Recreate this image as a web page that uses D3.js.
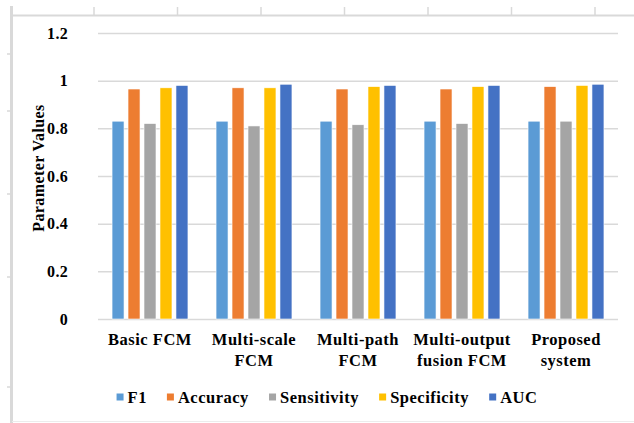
<!DOCTYPE html>
<html>
<head>
<meta charset="utf-8">
<script src="https://cdn.jsdelivr.net/npm/d3@7"></script>
</head>
<body style="margin:0;padding:0;background:#fff;">
<svg id="chart" width="634" height="423" style="display:block;"></svg>
<script>
const categories = ["Basic FCM", "Multi-scale FCM", "Multi-path FCM", "Multi-output fusion FCM", "Proposed system"];
const categoryLines = [["Basic FCM"], ["Multi-scale", "FCM"], ["Multi-path", "FCM"], ["Multi-output", "fusion FCM"], ["Proposed", "system"]];
const seriesNames = ["F1", "Accuracy", "Sensitivity", "Specificity", "AUC"];
const F1 = [0.83, 0.83, 0.83, 0.83, 0.83];
const Accuracy = [0.965, 0.97, 0.965, 0.965, 0.975];
const Sensitivity = [0.82, 0.81, 0.815, 0.82, 0.83];
const Specificity = [0.97, 0.97, 0.975, 0.975, 0.98];
const AUC = [0.98, 0.985, 0.98, 0.98, 0.985];
const yTicks = [0, 0.2, 0.4, 0.6, 0.8, 1, 1.2];
const yTickLabels = ["0", "0.2", "0.4", "0.6", "0.8", "1", "1.2"];
const yTitle = "Parameter Values";
const colors = ["#5b9bd5", "#ed7d31", "#a5a5a5", "#ffc000", "#4472c4"];

const seriesValues = [F1, Accuracy, Sensitivity, Specificity, AUC];
const FONT = '"Liberation Serif", "Times New Roman", serif';

function styleText(sel, size, ls) {
  sel.style("font-family", FONT).style("font-weight", "bold").style("font-size", size + "px")
    .style("fill", "#000").style("letter-spacing", (ls || 0) + "px");
  return sel;
}

const svg = d3.select("#chart");

// outer frame (ruler-like border)
const frame = svg.append("g");
frame.append("line").attr("x1", 11).attr("x2", 634).attr("y1", 15.5).attr("y2", 15.5)
  .attr("stroke", "#d9d9d9").attr("stroke-width", 2);
frame.append("line").attr("x1", 11.5).attr("x2", 11.5).attr("y1", 6).attr("y2", 423)
  .attr("stroke", "#d9d9d9").attr("stroke-width", 3);
frame.append("line").attr("x1", 12).attr("x2", 634).attr("y1", 421.5).attr("y2", 421.5)
  .attr("stroke", "#ececec").attr("stroke-width", 1);
const topTicks = d3.range(7).map(i => 94 + i * 83.5);
frame.selectAll(".tt").data(topTicks).enter().append("line")
  .attr("x1", d => d).attr("x2", d => d).attr("y1", 7).attr("y2", 15)
  .attr("stroke", "#d9d9d9").attr("stroke-width", 1.5);
const leftTicks = [54, 111, 194, 277, 387];
frame.selectAll(".lt").data(leftTicks).enter().append("line")
  .attr("x1", 7).attr("x2", 11).attr("y1", d => d).attr("y2", d => d)
  .attr("stroke", "#d9d9d9").attr("stroke-width", 1.5);

const x0 = d3.scaleBand().domain(categories).range([98, 618]).paddingInner(0.27).paddingOuter(0.135);
const x1 = d3.scaleBand().domain(seriesNames).range([0, x0.bandwidth()]).paddingInner(0.25).paddingOuter(0);
const y = d3.scaleLinear().domain([0, 1.2]).range([319, 33]);

// gridlines + tick labels
const yAxis = d3.axisLeft(y).tickValues(yTicks).tickSize(-(618 - 98)).tickFormat((d, i) => yTickLabels[i]).tickPadding(30);
const gy = svg.append("g").attr("transform", "translate(98,0)").call(yAxis);
gy.select(".domain").remove();
gy.selectAll(".tick line").attr("stroke", "#d9d9d9").attr("stroke-width", 1.5);
styleText(gy.selectAll(".tick text"), 16, 0.3);

// bars
const groups = svg.append("g").selectAll("g").data(categories).enter().append("g")
  .attr("transform", d => `translate(${x0(d)},0)`);
groups.selectAll("rect").data((c, ci) => seriesNames.map((s, si) => ({ s, si, v: seriesValues[si][ci] })))
  .enter().append("rect")
  .attr("x", d => x1(d.s))
  .attr("y", d => y(d.v))
  .attr("width", x1.bandwidth())
  .attr("height", d => y(0) - y(d.v))
  .attr("fill", d => colors[d.si])
  .attr("stroke", "#ffffff").attr("stroke-width", 0.6);

// category labels
const xl = svg.append("g");
categories.forEach((c, i) => {
  const cxp = x0(c) + x0.bandwidth() / 2;
  const t = xl.append("text").attr("x", cxp).attr("y", 345).attr("text-anchor", "middle");
  styleText(t, 16.5, 0.5);
  categoryLines[i].forEach((ln, j) => {
    t.append("tspan").attr("x", cxp).attr("dy", j === 0 ? 0 : 21).text(ln);
  });
});

// y title
const yt = svg.append("text").attr("transform", "translate(44,168) rotate(-90)")
  .attr("text-anchor", "middle").text(yTitle);
styleText(yt, 16, 0.4);

// legend
const legend = svg.append("g");
const items = legend.selectAll("g").data(seriesNames).enter().append("g");
items.append("rect").attr("width", 7).attr("height", 7).attr("y", -3.5).attr("fill", (d, i) => colors[i]);
styleText(items.append("text").attr("x", 11).attr("dy", "0.35em").text(d => d), 16.5, 0.5);
let cx = 0;
const gap = 20;
items.each(function () {
  const w = this.getBBox().width;
  d3.select(this).attr("transform", `translate(${cx},0)`);
  cx += w + gap;
});
const totalW = cx - gap;
legend.attr("transform", `translate(${327 - totalW / 2},397)`);
</script>
</body>
</html>
